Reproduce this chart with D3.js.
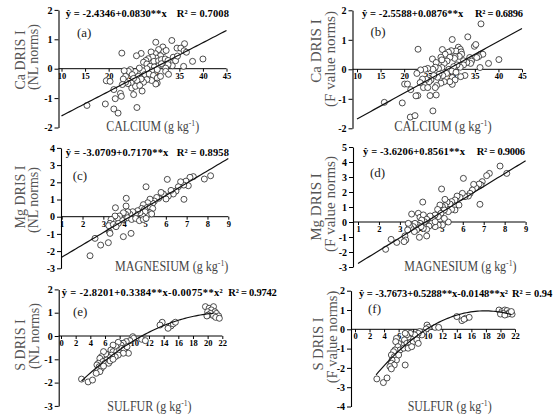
<!DOCTYPE html>
<html><head><meta charset="utf-8">
<script src="https://cdn.jsdelivr.net/npm/d3@7"></script>
<style>body{margin:0;background:#fff} svg{display:block}</style>
</head><body>
<svg id="c" width="555" height="419"></svg>
<script>
// ---------- DATA ----------
const caNL = [[30.0,0.90],[33.4,0.96],[36.1,0.85],[34.5,0.70],[35.3,0.70],[31.5,0.74],[30.6,0.65],[29.9,0.51],[29.0,0.57],[26.9,0.52],[25.9,0.44],[22.8,0.53],[31.7,0.58],[32.2,0.62],[31.0,0.44],[30.1,0.36],[29.3,0.40],[28.4,0.34],[27.9,0.28],[27.4,0.22],[28.1,0.16],[29.6,0.25],[30.6,0.27],[31.2,0.31],[32.0,0.33],[32.6,0.28],[33.7,0.39],[34.2,0.27],[34.6,0.43],[36.0,0.61],[36.5,0.56],[37.8,0.25],[40.0,0.33],[35.9,0.08],[33.5,0.10],[32.6,0.14],[32.1,0.02],[30.6,0.10],[31.2,0.17],[28.8,0.08],[29.7,0.06],[30.3,-0.03],[29.1,-0.07],[28.1,0.00],[27.2,-0.07],[26.5,0.02],[25.6,-0.10],[24.6,-0.03],[24.2,-0.09],[23.3,-0.07],[23.6,-0.26],[25.0,-0.20],[26.3,-0.26],[27.7,-0.20],[28.6,-0.18],[29.5,-0.23],[30.3,-0.32],[31.0,-0.26],[32.1,-0.09],[32.7,-0.19],[30.3,-0.49],[30.0,-0.52],[29.1,-0.40],[28.1,-0.37],[27.4,-0.46],[26.9,-0.35],[26.0,-0.40],[25.3,-0.33],[24.8,-0.49],[24.1,-0.51],[23.6,-0.46],[23.1,-0.35],[22.9,-0.54],[19.5,-0.41],[20.3,-0.43],[24.9,-0.66],[25.7,-0.60],[26.6,-0.57],[27.1,-0.76],[25.3,-0.88],[22.5,-0.84],[22.7,-0.94],[21.4,-1.02],[21.1,-0.71],[19.3,-1.20],[15.4,-1.25],[21.1,-1.37],[22.0,-1.51],[26.0,-1.32]];
const caF = [[22.95,0.68],[28.1,0.67],[30.2,1.01],[33.5,1.10],[34.9,0.78],[35.2,0.84],[36.3,1.54],[31.5,0.75],[31.9,0.68],[31.0,0.62],[30.0,0.63],[29.4,0.58],[28.7,0.51],[27.8,0.41],[26.0,0.35],[26.8,0.23],[32.1,0.59],[32.2,0.51],[31.7,0.44],[30.8,0.43],[30.7,0.37],[29.7,0.41],[29.1,0.28],[28.5,0.20],[28.0,0.32],[33.9,0.40],[34.3,0.28],[34.1,0.20],[33.3,0.23],[32.6,0.29],[32.6,0.15],[31.9,0.07],[31.2,0.15],[30.5,0.09],[36.2,0.51],[36.7,0.51],[35.8,0.43],[35.4,0.40],[40.1,0.33],[37.9,0.20],[36.1,0.06],[28.0,0.06],[27.3,0.03],[26.6,0.07],[26.1,0.00],[25.0,0.03],[24.4,0.00],[23.5,-0.02],[22.7,-0.14],[29.5,0.00],[30.1,-0.06],[31.0,-0.10],[32.9,-0.21],[32.0,-0.25],[29.0,-0.14],[28.2,-0.21],[27.4,-0.17],[27.1,-0.27],[26.3,-0.21],[25.7,-0.36],[25.3,-0.42],[24.7,-0.34],[23.9,-0.33],[23.4,-0.45],[24.1,-0.62],[25.0,-0.62],[30.2,-0.28],[30.8,-0.36],[30.2,-0.51],[29.7,-0.42],[28.5,-0.42],[27.8,-0.47],[26.9,-0.55],[26.6,-0.62],[20.1,-0.50],[20.7,-0.50],[21.4,-0.69],[22.9,-0.89],[22.5,-0.90],[25.5,-0.89],[26.8,-0.87],[19.6,-1.14],[15.8,-1.12],[21.3,-1.62],[22.3,-1.57],[26.1,-1.41]];
const mgNL = [[8.15,2.38],[7.85,2.19],[7.32,2.33],[7.16,2.29],[6.97,2.07],[7.08,1.80],[6.86,1.84],[6.71,2.03],[6.60,1.74],[6.49,1.49],[6.36,1.32],[6.25,1.53],[6.12,1.20],[6.01,1.03],[5.88,1.32],[5.77,1.41],[5.66,1.07],[5.56,1.12],[5.45,0.91],[5.37,0.78],[5.24,1.02],[5.13,0.81],[5.05,1.74],[6.07,2.17],[6.87,1.01],[4.92,0.70],[4.84,0.48],[4.97,0.43],[5.11,0.54],[5.24,0.58],[5.37,0.48],[5.24,0.23],[5.11,0.10],[5.00,0.29],[4.89,0.04],[4.76,0.23],[4.65,0.35],[4.54,0.16],[4.41,0.29],[4.28,0.14],[4.17,0.29],[4.07,0.14],[3.96,0.23],[4.09,0.62],[4.10,1.07],[3.58,0.52],[3.99,-0.14],[3.88,-0.19],[3.77,0.04],[3.67,-0.10],[3.56,0.04],[3.48,-0.29],[3.37,-0.16],[3.32,-0.39],[3.26,-0.52],[3.48,-0.45],[3.72,-0.39],[3.61,-0.58],[4.17,-0.06],[4.36,-0.16],[4.55,-0.10],[4.73,-0.23],[4.92,-0.16],[5.05,-0.10],[5.32,0.16],[3.29,-0.87],[3.32,-0.97],[3.96,-1.16],[4.33,-0.97],[2.60,-1.26],[2.87,-1.65],[3.24,-1.51],[2.36,-2.27]];
const mgF = [[7.78,3.73],[8.10,3.24],[7.27,3.24],[7.14,3.09],[6.03,2.91],[4.99,2.20],[6.93,2.69],[6.87,2.47],[6.78,2.53],[6.62,2.29],[6.52,2.51],[6.46,2.13],[6.35,1.91],[6.27,1.73],[6.11,1.69],[5.98,1.91],[5.87,1.64],[5.73,1.73],[5.63,1.47],[5.47,1.36],[5.39,1.20],[5.25,1.33],[5.15,1.51],[5.15,1.09],[5.03,1.02],[4.91,1.13],[4.80,0.84],[6.82,1.18],[5.82,1.13],[5.63,0.80],[5.47,0.84],[5.31,0.69],[5.12,0.80],[4.09,1.33],[3.56,0.53],[3.88,0.58],[3.96,0.31],[4.12,0.47],[4.96,0.58],[4.83,0.36],[4.68,0.47],[4.55,0.24],[4.44,0.40],[4.28,0.18],[4.17,0.02],[4.04,0.13],[3.96,-0.09],[3.85,-0.20],[3.72,-0.09],[3.64,-0.31],[3.53,-0.42],[3.45,-0.24],[3.37,-0.53],[3.40,-0.09],[5.18,0.02],[5.31,0.00],[5.12,0.24],[5.03,-0.20],[4.83,-0.20],[4.68,-0.31],[4.52,-0.09],[4.39,-0.27],[4.28,-0.49],[4.12,-0.42],[4.01,-0.31],[3.80,-0.53],[3.69,-0.64],[4.68,0.02],[3.93,-1.02],[4.28,-0.93],[3.24,-0.93],[3.28,-1.20],[2.85,-1.36],[2.58,-1.16],[2.32,-1.82],[3.20,-1.31]];
const sNL = [[19.7,1.26],[20.2,1.19],[20.8,1.26],[20.5,1.12],[20.0,1.04],[21.0,1.04],[21.2,0.97],[20.4,0.97],[20.1,0.90],[21.5,0.86],[20.8,0.87],[21.1,0.80],[21.6,0.76],[19.9,0.86],[13.8,0.59],[13.5,0.47],[15.0,0.43],[15.3,0.52],[15.6,0.59],[14.6,0.33],[9.8,-0.03],[9.9,-0.10],[11.0,-0.14],[11.5,-0.20],[9.4,-0.20],[8.9,-0.24],[8.5,-0.31],[8.2,-0.39],[7.8,-0.27],[7.5,-0.46],[7.1,-0.39],[6.8,-0.60],[7.1,-0.67],[7.6,-0.67],[8.0,-0.60],[8.3,-0.53],[8.6,-0.57],[9.0,-0.46],[9.2,-0.74],[8.5,-0.74],[7.8,-0.82],[7.4,-0.89],[6.9,-0.82],[6.6,-0.93],[6.2,-1.03],[6.1,-0.77],[5.8,-0.67],[5.5,-0.89],[5.3,-0.96],[5.7,-1.10],[6.0,-1.17],[6.5,-1.17],[6.7,-1.07],[7.1,-1.00],[5.1,-1.17],[4.9,-1.24],[5.2,-1.32],[5.5,-1.39],[5.8,-1.29],[5.0,-1.49],[5.3,-1.53],[4.8,-1.60],[2.8,-1.85],[3.7,-1.97],[4.3,-1.89]];
const sF = [[19.8,1.00],[20.2,0.92],[20.6,1.00],[20.9,0.97],[21.2,0.86],[21.6,0.78],[21.0,0.79],[20.4,0.83],[20.0,0.79],[20.6,0.74],[21.5,0.92],[14.0,0.66],[14.7,0.45],[15.2,0.57],[15.7,0.62],[15.0,0.52],[9.9,0.22],[10.1,0.10],[9.8,0.02],[11.0,0.10],[11.5,0.10],[9.4,-0.16],[8.9,-0.12],[9.2,-0.29],[8.7,-0.21],[8.5,-0.41],[8.2,-0.29],[7.8,-0.52],[7.6,-0.21],[7.3,-0.41],[7.1,-0.29],[6.9,-0.21],[6.8,-0.55],[7.1,-0.73],[7.6,-0.69],[8.0,-0.64],[8.5,-0.55],[8.7,-0.73],[6.4,-0.81],[6.0,-0.73],[5.7,-0.47],[5.6,-0.64],[5.9,-0.90],[6.2,-1.07],[6.7,-0.98],[7.3,-0.98],[7.8,-0.90],[5.5,-1.07],[5.3,-1.16],[5.0,-1.33],[5.4,-1.42],[5.7,-1.59],[6.0,-1.33],[5.1,-1.59],[5.0,-1.76],[5.4,-1.85],[6.9,-1.85],[4.8,-1.93],[5.0,-2.05],[3.0,-2.57],[3.9,-2.76],[4.4,-2.52]];

const coefCaNL = [-2.4346, 0.0830, 0];
const coefCaF = [-2.5588, 0.0876, 0];
const coefMgNL = [-3.0709, 0.7170, 0];
const coefMgF = [-3.6206, 0.8561, 0];
const coefSNL = [-2.8201, 0.3384, -0.0075];
const coefSF = [-3.7673, 0.5288, -0.0148];

const fitRangeCa = [10, 45];
const fitRangeMg = [1, 9];
const fitRangeSNL = [2.8, 20.8];
const fitRangeSF = [2.9, 21.5];

const xTicksCa = [10,15,20,25,30,35,40,45];
const xTicksMg = [1,2,3,4,5,6,7,8,9];
const xTicksS = [0,2,4,6,8,10,12,14,16,18,20,22];
const yTicksCa = [-2,-1,0,1,2];
const yTicksMgNL = [-3,-2,-1,0,1,2,3,4];
const yTicksMgF = [-3,-2,-1,0,1,2,3,4,5];
const yTicksSNL = [-3,-2,-1,0,1,2];
const yTicksSF = [-4,-3,-2,-1,0,1,2];

const eqTexts = ["ŷ = -2.4346+0.0830**x","ŷ = -2.5588+0.0876**x","ŷ = -3.0709+0.7170**x","ŷ = -3.6206+0.8561**x","ŷ = -2.8201+0.3384**x-0.0075**x²","ŷ = -3.7673+0.5288**x-0.0148**x²"];
const r2Texts = ["R² = 0.7008","R² = 0.6896","R² = 0.8958","R² = 0.9006","R² = 0.9742","R² = 0.94"];
const panelLabels = ["(a)","(b)","(c)","(d)","(e)","(f)"];
const xTitles = ["CALCIUM","CALCIUM","MAGNESIUM","MAGNESIUM","SULFUR","SULFUR"];
const yTitles1 = ["Ca DRIS I","Ca DRIS I","Mg DRIS I","Mg DRIS I","S DRIS I","S DRIS I"];
const yTitles2 = ["(NL norms)","(F value norms)","(NL norms)","(F value norms)","(NL norms)","(F value norms)"];

// ---------- LAYOUT ----------
const panels = [
 {pts:caNL, coef:coefCaNL, fit:fitRangeCa, xDom:[10,45], yDom:[-2,2], xT:xTicksCa, yT:yTicksCa,
  ax:58.5, xr:[61.5,226.5], yr:[127.5,9.9], eq:[65.7,16.8,101], r2:[176.7,16.8,52.3], lab:[77,37], xt:[152.7,130.5,93], yfs:14, yt1:[20,60], yt2:[33,57]},
 {pts:caF, coef:coefCaF, fit:fitRangeCa, xDom:[10,45], yDom:[-2,2], xT:xTicksCa, yT:yTicksCa,
  ax:352.5, xr:[357,522], yr:[128.3,10.3], eq:[362,16.8,101.3], r2:[475,16.8,48], lab:[370.5,36], xt:[443,130.5,97.4], yfs:15, yt1:[316,51], yt2:[330,59]},
 {pts:mgNL, coef:coefMgNL, fit:fitRangeMg, xDom:[1,9], yDom:[-3,4], xT:xTicksMg, yT:yTicksMgNL,
  ax:61, xr:[61.7,228.3], yr:[268.3,147.9], eq:[65.7,156,102.6], r2:[176.7,156,52.3], lab:[72.7,180], xt:[171.7,270.5,113.3], yfs:14, yt1:[20,197], yt2:[33,200]},
 {pts:mgF, coef:coefMgF, fit:fitRangeMg, xDom:[1,9], yDom:[-3,5], xT:xTicksMg, yT:yTicksMgF,
  ax:353, xr:[358,525.6], yr:[267,147], eq:[363,155,102], r2:[476.7,155,48.3], lab:[370,177], xt:[460.5,271,112.4], yfs:15, yt1:[316,207], yt2:[330,204]},
 {pts:sNL, coef:coefSNL, fit:fitRangeSNL, xDom:[0,22], yDom:[-3,2], xT:xTicksS, yT:yTicksSNL,
  ax:58.7, xr:[61,222.3], yr:[405.9,289.4], eq:[61.7,296,161], r2:[228.3,296,48.4], lab:[73,315.5], xt:[149.5,411,84.4], yfs:14, yt1:[20,345], yt2:[34,336]},
 {pts:sF, coef:coefSF, fit:fitRangeSF, xDom:[0,22], yDom:[-4,2], xT:xTicksS, yT:yTicksSF,
  ax:351, xr:[355,515], yr:[406.5,290.7], eq:[359,296.5,149], r2:[512,296.5,null], lab:[368,313], xt:[449.7,411,84], yfs:14.5, yt1:[318,344], yt2:[332,337]}
];

const FONT = "'Liberation Serif','Times New Roman',serif";
const svg = d3.select('#c');
svg.append('rect').attr('width',555).attr('height',419).attr('fill','#fff');

panels.forEach((p, i) => {
  const x = d3.scaleLinear().domain(p.xDom).range(p.xr);
  const y = d3.scaleLinear().domain(p.yDom).range(p.yr);
  const g = svg.append('g');

  // y axis
  const ya = g.append('g').attr('transform', `translate(${p.ax},0)`)
    .call(d3.axisLeft(y).tickValues(p.yT).tickSize(4).tickSizeOuter(0).tickPadding(2).tickFormat(d => String(d)));
  ya.select('.domain').attr('stroke', '#000').attr('stroke-width', 1.1);
  ya.selectAll('.tick line').attr('stroke', '#000');
  ya.selectAll('.tick text').attr('font-family', FONT).attr('font-weight', 'bold').attr('font-size', 10).attr('fill', '#000');

  // x axis at y = 0
  const xa = g.append('g').attr('transform', `translate(0,${y(0)})`)
    .call(d3.axisBottom(x).tickValues(p.xT).tickSize(3).tickSizeOuter(0).tickPadding(1).tickFormat(d => String(d)));
  xa.select('.domain').remove();
  xa.selectAll('.tick line').attr('stroke', '#000');
  xa.selectAll('.tick text').attr('font-family', FONT).attr('font-weight', 'bold').attr('font-size', 8.5).attr('fill', '#000');
  g.append('line').attr('x1', p.ax).attr('x2', p.xr[1]).attr('y1', y(0)).attr('y2', y(0))
    .attr('stroke', '#000').attr('stroke-width', 1);

  // points
  g.append('g').selectAll('circle').data(p.pts).join('circle')
    .attr('cx', d => x(d[0])).attr('cy', d => y(d[1])).attr('r', 3)
    .attr('fill', '#fff').attr('stroke', '#222').attr('stroke-width', 0.8);

  // fitted curve
  const f = v => p.coef[0] + p.coef[1] * v + p.coef[2] * v * v;
  const xs = d3.range(p.fit[0], p.fit[1] + 1e-9, (p.fit[1] - p.fit[0]) / 60);
  g.append('path').datum(xs)
    .attr('d', d3.line().x(v => x(v)).y(v => y(f(v))))
    .attr('fill', 'none').attr('stroke', '#111').attr('stroke-width', 1.2);

  // equation + R2
  const eq = g.append('text').attr('x', p.eq[0]).attr('y', p.eq[1])
    .attr('font-family', FONT).attr('font-weight', 'bold').attr('font-size', 10.5).text(eqTexts[i]);
  if (p.eq[2]) eq.attr('textLength', p.eq[2]);
  const r2 = g.append('text').attr('x', p.r2[0]).attr('y', p.r2[1])
    .attr('font-family', FONT).attr('font-weight', 'bold').attr('font-size', 10.5).text(r2Texts[i]);
  if (p.r2[2]) r2.attr('textLength', p.r2[2]);

  // panel label
  g.append('text').attr('x', p.lab[0]).attr('y', p.lab[1])
    .attr('font-family', FONT).attr('font-size', 13).attr('fill', '#222').text(panelLabels[i]);

  // x title (horizontally condensed to match the reference)
  const xt = g.append('text').attr('x', 0).attr('y', 0)
    .attr('font-family', FONT).attr('font-size', 14).attr('fill', '#444');
  xt.append('tspan').text(xTitles[i] + ' (g kg');
  xt.append('tspan').attr('dy', -5).attr('font-size', 9).text('-1');
  xt.append('tspan').attr('dy', 5).text(')');
  const w = xt.node().getComputedTextLength() || p.xt[2];
  const s = Math.min(1, p.xt[2] / w);
  xt.attr('transform', `translate(${p.xt[0] - w * s / 2},${p.xt[1]}) scale(${s},1)`);

  // y titles: one rotated text with two lines
  const fs = p.yfs;
  const yt = g.append('text').attr('transform', 'rotate(-90)')
    .attr('text-anchor', 'middle')
    .attr('font-family', FONT).attr('font-size', fs).attr('fill', '#555');
  yt.append('tspan').attr('x', -p.yt1[1]).attr('y', p.yt1[0] + fs * 0.33).text(yTitles1[i]);
  yt.append('tspan').attr('x', -p.yt2[1]).attr('y', p.yt2[0] + fs * 0.33).text(yTitles2[i]);
});
</script>
</body></html>
